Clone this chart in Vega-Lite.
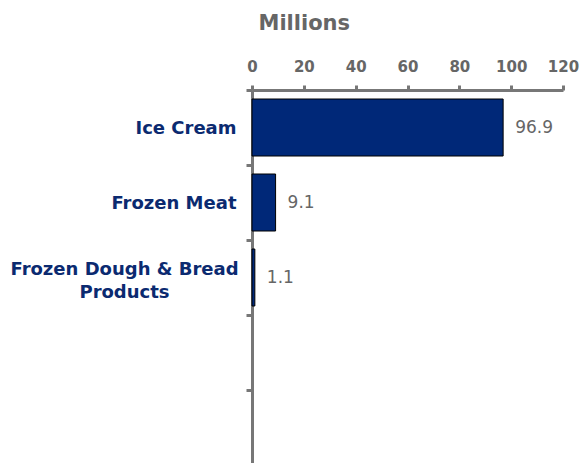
{
  "$schema": "https://vega.github.io/schema/vega-lite/v6.json",
  "width": 311,
  "height": 375,
  "autosize": "none",
  "padding": {"left": 252, "top": 90, "right": 17, "bottom": 0},
  "background": "white",
  "config": {"view": {"stroke": null}, "font": "DejaVu Sans"},
  "data": {"values": [
    {"category": "Ice Cream", "value": 96.9},
    {"category": "Frozen Meat", "value": 9.1},
    {"category": "Frozen Dough & Bread Products", "value": 1.1}
  ]},
  "encoding": {
    "y": {
      "field": "category", "type": "nominal",
      "scale": {"domain": ["Ice Cream", "Frozen Meat", "Frozen Dough & Bread Products", "e1", "e2"], "paddingInner": 0, "paddingOuter": 0},
      "axis": {
        "title": null,
        "orient": "left",
        "domainColor": "#777777", "domainWidth": 3,
        "tickColor": "#777777", "tickWidth": 3, "tickSize": 6, "tickBand": "extent",
        "labelFont": "DejaVu Sans", "labelFontSize": 18, "labelFontWeight": "bold", "labelColor": "#0b2a70",
        "labelLineHeight": 23,
        "labelPadding": {"condition": {"test": "datum.value == 'Frozen Dough & Bread Products'", "value": 122}, "value": 10},
        "labelAlign": {"condition": {"test": "datum.value == 'Frozen Dough & Bread Products'", "value": "center"}, "value": "right"},
        "labelOffset": {"condition": {"test": "datum.value == 'Frozen Dough & Bread Products'", "value": -8}, "value": 1},
        "labelExpr": "datum.value == 'Frozen Dough & Bread Products' ? ['Frozen Dough & Bread', 'Products'] : ((datum.value == 'e1' || datum.value == 'e2') ? '' : datum.value)",
        "labelLimit": 300
      }
    },
    "x": {
      "field": "value", "type": "quantitative",
      "scale": {"domain": [0, 120], "nice": false},
      "axis": {
        "orient": "top",
        "title": "Millions",
        "titleFont": "DejaVu Sans", "titleFontSize": 21, "titleFontWeight": "bold", "titleColor": "#666666",
        "titleAnchor": "start", "titleAlign": "left", "titleX": 6, "titleY": -61, "titleBaseline": "alphabetic",
        "values": [0, 20, 40, 60, 80, 100, 120],
        "grid": false,
        "domainColor": "#777777", "domainWidth": 3,
        "tickColor": "#777777", "tickWidth": 3, "tickSize": 5,
        "labelFont": "DejaVu Sans", "labelFontSize": 15, "labelFontWeight": "bold", "labelColor": "#666666",
        "labelPadding": 11, "labelFlush": false
      }
    }
  },
  "layer": [
    {"mark": {"type": "bar", "color": "#002878", "stroke": "#000000", "strokeWidth": 1, "height": {"band": 0.76}}},
    {"mark": {"type": "text", "align": "left", "baseline": "middle", "dx": 12, "font": "DejaVu Sans", "fontSize": 17, "color": "#666666"},
     "encoding": {"text": {"field": "value", "type": "quantitative", "format": ".1f"}}}
  ]
}
